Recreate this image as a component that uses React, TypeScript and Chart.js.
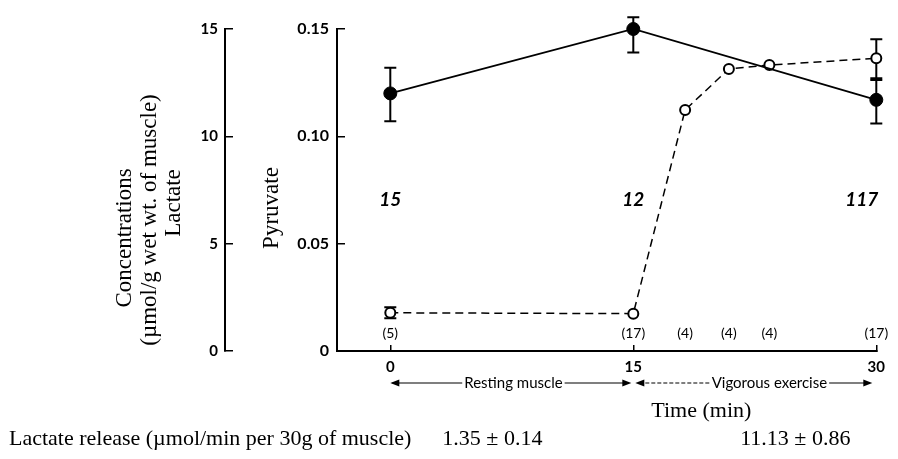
import React, { useEffect, useRef } from 'react';
import { Chart, registerables } from 'chart.js';

Chart.register(...registerables);

// ---- data ----
const pyruvateTimes = [0, 15, 30];
const pyruvateMean = [0.12, 0.15, 0.117];
const pyruvateLow = [0.107, 0.139, 0.106];
const pyruvateHigh = [0.132, 0.1555, 0.127];

const lactateTimes = [0, 15, 18.2, 20.9, 23.4, 30];
const lactateMean = [1.78, 1.74, 11.23, 13.14, 13.32, 13.64];
const lactateLow = [1.52, null, null, null, null, 12.62];
const lactateHigh = [2.04, null, null, null, null, 14.52];

const sampleCounts = ['(5)', '(17)', '(4)', '(4)', '(4)', '(17)'];
const markTimes = [0, 15, 30];
const markLabels = ['15', '12', '117'];

const xTicks = [0, 15, 30];
const pyruvateTicks = [0, 0.05, 0.1, 0.15];
const pyruvateTickLabels = ['0', '0.05', '0.10', '0.15'];
const lactateTicks = [0, 5, 10, 15];
const lactateTickLabels = ['0', '5', '10', '15'];

const phaseLabels = ['Resting muscle', 'Vigorous exercise'];
const phaseCenters = [7.6, 23.4];
const releaseTitle = 'Lactate release (\u00b5mol/min per 30g of muscle)';
const releaseValues = ['1.35 \u00b1 0.14', '11.13 \u00b1 0.86'];
const releaseCenters = [6.3, 25.0];
const xTitle = 'Time (min)';
const xTitleCenter = 19.2;
const lactateTitleLines = ['Concentrations', '(\u00b5mol/g wet wt. of muscle)', 'Lactate'];
const pyruvateTitle = 'Pyruvate';

const SERIF = '"Liberation Serif", "Times New Roman", serif';
const SANS = 'Lato, "Open Sans", sans-serif';

function arrowHead(ctx: CanvasRenderingContext2D, x: number, y: number, dir: number) {
  ctx.beginPath();
  ctx.moveTo(x, y);
  ctx.lineTo(x - dir * 9, y - 3.5);
  ctx.lineTo(x - dir * 9, y + 3.5);
  ctx.closePath();
  ctx.fill();
}

const annotations = {
  id: 'annotations',
  beforeDatasetsDraw(chart: any) {
    const ctx: CanvasRenderingContext2D = chart.ctx;
    const xs = chart.scales.x;
    const ys = chart.scales.y;
    const yl = chart.scales.yL;
    ctx.save();
    ctx.strokeStyle = '#000';
    ctx.lineWidth = 2;
    const bar = (x: number, y1: number, y2: number) => {
      ctx.beginPath();
      ctx.moveTo(x, y1);
      ctx.lineTo(x, y2);
      ctx.moveTo(x - 6, y1);
      ctx.lineTo(x + 6, y1);
      ctx.moveTo(x - 6, y2);
      ctx.lineTo(x + 6, y2);
      ctx.stroke();
    };
    pyruvateTimes.forEach((t, i) => {
      bar(xs.getPixelForValue(t), ys.getPixelForValue(pyruvateLow[i]), ys.getPixelForValue(pyruvateHigh[i]));
    });
    lactateTimes.forEach((t, i) => {
      const lo = lactateLow[i];
      const hi = lactateHigh[i];
      if (lo == null || hi == null) return;
      bar(xs.getPixelForValue(t), yl.getPixelForValue(lo), yl.getPixelForValue(hi));
    });
    ctx.restore();
  },
  afterDraw(chart: any) {
    const ctx: CanvasRenderingContext2D = chart.ctx;
    const xs = chart.scales.x;
    const area = chart.chartArea;
    ctx.save();
    ctx.fillStyle = '#000';
    ctx.strokeStyle = '#000';
    ctx.textBaseline = 'middle';

    // sample counts
    ctx.font = `14px ${SANS}`;
    ctx.textAlign = 'center';
    lactateTimes.forEach((t, i) => {
      ctx.fillText(sampleCounts[i], xs.getPixelForValue(t), area.bottom - 18);
    });

    // italic numbers
    ctx.font = `italic bold 19px ${SANS}`;
    markTimes.forEach((t, i) => {
      const last = i === markTimes.length - 1;
      ctx.textAlign = last ? 'right' : 'center';
      ctx.fillText(markLabels[i], xs.getPixelForValue(t) + (last ? 2 : 0), 200);
    });

    // phase arrows
    const yA = area.bottom + 32;
    const p0 = xs.getPixelForValue(0);
    const p15 = xs.getPixelForValue(15);
    const p30 = xs.getPixelForValue(30);
    ctx.font = `15px ${SANS}`;
    ctx.textAlign = 'center';
    const c1 = xs.getPixelForValue(phaseCenters[0]);
    const c2 = xs.getPixelForValue(phaseCenters[1]);
    const w1 = ctx.measureText(phaseLabels[0]).width;
    const w2 = ctx.measureText(phaseLabels[1]).width;
    ctx.fillText(phaseLabels[0], c1, yA);
    ctx.fillText(phaseLabels[1], c2, yA);
    ctx.lineWidth = 1.2;
    ctx.beginPath();
    ctx.moveTo(p0 + 2, yA);
    ctx.lineTo(c1 - w1 / 2 - 2, yA);
    ctx.moveTo(c1 + w1 / 2 + 2, yA);
    ctx.lineTo(p15 - 6, yA);
    ctx.moveTo(c2 + w2 / 2 + 2, yA);
    ctx.lineTo(p30 - 8, yA);
    ctx.stroke();
    ctx.setLineDash([4, 2]);
    ctx.beginPath();
    ctx.moveTo(p15 + 6, yA);
    ctx.lineTo(c2 - w2 / 2 - 2, yA);
    ctx.stroke();
    ctx.setLineDash([]);
    arrowHead(ctx, p0, yA, -1);
    arrowHead(ctx, p15 - 2, yA, 1);
    arrowHead(ctx, p15 + 2, yA, -1);
    arrowHead(ctx, p30 - 4, yA, 1);

    // bottom texts
    ctx.font = `22px ${SERIF}`;
    ctx.textAlign = 'center';
    ctx.fillText(xTitle, xs.getPixelForValue(xTitleCenter), 411);
    ctx.textAlign = 'left';
    ctx.fillText(releaseTitle, 9, 439);
    ctx.textAlign = 'center';
    releaseValues.forEach((s, i) => {
      ctx.fillText(s, xs.getPixelForValue(releaseCenters[i]), 439);
    });

    // rotated axis titles
    const vtext = (s: string, x: number, y: number) => {
      ctx.save();
      ctx.translate(x, y);
      ctx.rotate(-Math.PI / 2);
      ctx.textAlign = 'center';
      ctx.fillText(s, 0, 0);
      ctx.restore();
    };
    ctx.font = `23px ${SERIF}`;
    vtext(lactateTitleLines[0], 125, 238);
    vtext(lactateTitleLines[1], 150, 220);
    vtext(lactateTitleLines[2], 174, 203);
    vtext(pyruvateTitle, 272, 208);
    ctx.restore();
  },
};

export default function App() {
  const ref = useRef<HTMLCanvasElement>(null);
  useEffect(() => {
    if (!ref.current) return;
    const chart = new Chart(ref.current, {
      type: 'line',
      data: {
        datasets: [
          {
            label: 'Pyruvate',
            data: pyruvateTimes.map((t, i) => ({ x: t, y: pyruvateMean[i] })),
            yAxisID: 'y',
            borderColor: '#000',
            borderWidth: 1.8,
            pointRadius: 6.5,
            pointBackgroundColor: '#000',
            pointBorderColor: '#000',
            pointBorderWidth: 1,
            tension: 0,
            fill: false,
            clip: false as any,
          },
          {
            label: 'Lactate',
            data: lactateTimes.map((t, i) => ({ x: t, y: lactateMean[i] })),
            yAxisID: 'yL',
            borderColor: '#000',
            borderWidth: 1.5,
            borderDash: [8, 5],
            pointRadius: 5,
            pointBackgroundColor: '#fff',
            pointBorderColor: '#000',
            pointBorderWidth: 2,
            tension: 0,
            fill: false,
            clip: false as any,
          },
        ],
      },
      options: {
        animation: false,
        responsive: false,
        layout: { padding: { left: 0, right: 14, top: 29, bottom: 0 } },
        plugins: { legend: { display: false }, tooltip: { enabled: false } },
        scales: {
          x: {
            type: 'linear',
            position: 'bottom',
            min: -3.29,
            max: 30,
            afterBuildTicks: (s: any) => {
              s.ticks = xTicks.map((v) => ({ value: v }));
            },
            afterFit: (s: any) => {
              s.height = 108;
            },
            grid: { display: true, drawOnChartArea: false, drawTicks: true, tickLength: -6, color: '#000', lineWidth: 1.5 },
            border: { display: true, color: '#000', width: 2 },
            ticks: {
              autoSkip: false,
              maxRotation: 0,
              padding: 13,
              color: '#000',
              font: { family: SANS, size: 15, weight: 'bold' },
              callback: (v: any) => String(v),
            },
          },
          y: {
            type: 'linear',
            position: 'left',
            weight: 0,
            min: 0,
            max: 0.15,
            afterBuildTicks: (s: any) => {
              s.ticks = pyruvateTicks.map((v) => ({ value: v }));
            },
            afterFit: (s: any) => {
              s.width = 112;
            },
            grid: { display: true, drawOnChartArea: false, drawTicks: true, tickLength: -8, color: '#000', lineWidth: 1.5 },
            border: { display: true, color: '#000', width: 2 },
            ticks: {
              padding: 16,
              color: '#000',
              font: { family: SANS, size: 16, weight: 'bold' },
              callback: (_v: any, i: number) => pyruvateTickLabels[i],
            },
          },
          yL: {
            type: 'linear',
            position: 'left',
            weight: 1,
            min: 0,
            max: 15,
            afterBuildTicks: (s: any) => {
              s.ticks = lactateTicks.map((v) => ({ value: v }));
            },
            afterFit: (s: any) => {
              s.width = 225;
            },
            grid: { display: true, drawOnChartArea: false, drawTicks: true, tickLength: -8, color: '#000', lineWidth: 1.5 },
            border: { display: true, color: '#000', width: 2 },
            ticks: {
              padding: 15,
              color: '#000',
              font: { family: SANS, size: 15, weight: 'bold' },
              callback: (_v: any, i: number) => lactateTickLabels[i],
            },
          },
        },
      } as any,
      plugins: [annotations as any],
    });
    return () => chart.destroy();
  }, []);
  return (
    <div style={{ position: 'absolute', left: 0, top: 0, width: 898, height: 459, background: '#fff' }}>
      <canvas ref={ref} width={898} height={459} style={{ display: 'block' }} />
    </div>
  );
}
